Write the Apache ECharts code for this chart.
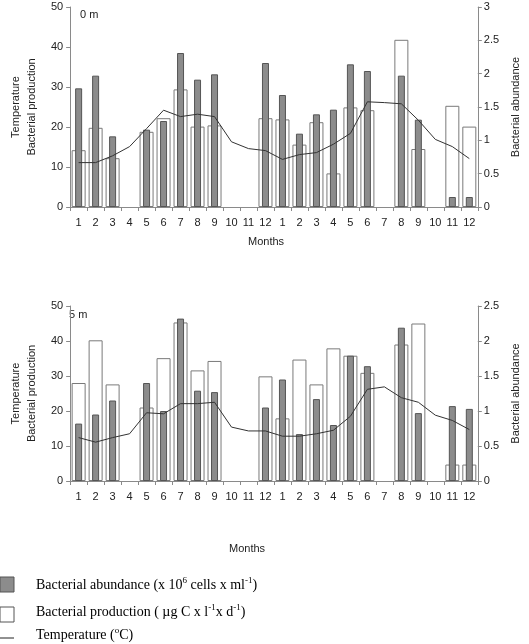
<!DOCTYPE html>
<html>
<head>
<meta charset="utf-8">
<script src="https://cdn.jsdelivr.net/npm/echarts@6/dist/echarts.min.js"></script>
<style>html,body{margin:0;padding:0;background:#fff;}#c{width:529px;height:644px;}</style>
</head>
<body>
<div id="c"></div>
<script>
const months = ['1','2','3','4','5','6','7','8','9','10','11','12','1','2','3','4','5','6','7','8','9','10','11','12'];
const prod0m = [14.2,19.8,12.2,null,18.8,22.2,29.4,20.1,20.4,null,null,22.2, 21.9,15.6,21.2,8.4,24.9,24.2,null,41.8,14.5,null,25.3,20.1];
const abund0m = [1.78,1.97,1.06,null,1.16,1.29,2.31,1.91,1.99,null,null,2.16, 1.68,1.10,1.39,1.46,2.14,2.04,null,1.97,1.31,null,0.15,0.15];
const temp0m = [11.1,11.1,12.8,15.1,19.6,24.2,22.6,23.2,22.6,16.3,14.6,14.1, 11.9,13.1,13.6,15.7,18.4,26.3,26.1,25.8,21.7,16.9,15.1,12.1];
const prod5m = [28.0,40.2,27.6,null,21.0,35.1,45.3,31.6,34.3,null,null,29.9, 17.9,34.7,27.6,37.9,35.8,30.9,null,39.0,45.0,null,4.7,4.7];
const abund5m = [0.82,0.95,1.15,null,1.40,1.00,2.32,1.29,1.27,null,null,1.05, 1.45,0.67,1.17,0.80,1.79,1.64,null,2.19,0.97,null,1.07,1.03];
const temp5m = [12.4,11.1,12.4,13.5,19.5,19.2,22.1,22.1,22.5,15.4,14.3,14.3, 12.8,12.8,13.5,14.5,18.5,26.2,26.9,23.8,22.5,18.8,17.3,14.7];

const axisColor = '#8a8a8a';
const lblStyle = {color:'#222', fontFamily:'Liberation Sans, Arial, sans-serif', fontSize:11};
function xAx(grid, show){
  return {type:'category', gridIndex:grid, data:months, show:show, boundaryGap:true,
    axisLine:{lineStyle:{color:axisColor}}, axisTick:{show:true, length:4, interval:0, lineStyle:{color:axisColor}},
    axisLabel:Object.assign({interval:0, margin:10}, lblStyle)};
}
function yLeft(grid, gap){
  return {type:'value', gridIndex:grid, position:'left', min:0, max:50, interval:10,
    name:'Temperature\nBacterial production', nameLocation:'middle', nameRotate:90, nameGap:gap,
    nameTextStyle:{color:'#222', fontFamily:'Liberation Sans, Arial, sans-serif', fontSize:11, lineHeight:16},
    axisLine:{show:true, lineStyle:{color:axisColor}}, axisTick:{show:true, length:4, lineStyle:{color:axisColor}},
    splitLine:{show:false}, axisLabel:Object.assign({margin:7}, lblStyle)};
}
function yRight(grid, max){
  return {type:'value', gridIndex:grid, position:'right', min:0, max:max, interval:0.5,
    name:'Bacterial abundance', nameLocation:'middle', nameRotate:90, nameGap:26,
    nameTextStyle:{color:'#222', fontFamily:'Liberation Sans, Arial, sans-serif', fontSize:11},
    axisLine:{show:true, lineStyle:{color:axisColor}}, axisTick:{show:true, length:4, lineStyle:{color:axisColor}},
    splitLine:{show:false}, axisLabel:Object.assign({margin:6}, lblStyle)};
}
const prodStyle = {color:'#ffffff', borderColor:'#7a7a7a', borderWidth:1};
const abundStyle = {color:'#8c8c8c', borderColor:'#555555', borderWidth:1};
const lineStyle = {color:'#333333', width:1};
const serif = 'Liberation Serif, Times New Roman, serif';
const rich = {sup:{fontSize:9, fontFamily:serif, color:'#000', verticalAlign:'top', lineHeight:18}, n:{fontSize:14, fontFamily:serif, color:'#000', lineHeight:18}};

const option = {
  animation:false,
  backgroundColor:'#fff',
  grid:[
    {left:57, right:36, top:7, height:200},
    {left:53, right:36, top:306, height:175}
  ],
  xAxis:[xAx(0,true), xAx(0,false), xAx(1,true), xAx(1,false)],
  yAxis:[yLeft(0,30), yRight(0,3), yLeft(1,27), yRight(1,2.5)],
  series:[
    {name:'Bacterial production', type:'bar', xAxisIndex:0, yAxisIndex:0, data:prod0m, barWidth:14, itemStyle:prodStyle},
    {name:'Bacterial abundance', type:'bar', xAxisIndex:1, yAxisIndex:1, data:abund0m, barWidth:7, itemStyle:abundStyle},
    {name:'Temperature', type:'line', xAxisIndex:0, yAxisIndex:0, data:temp0m, symbol:'none', lineStyle:lineStyle, itemStyle:{color:'#333'}},
    {name:'Bacterial production', type:'bar', xAxisIndex:2, yAxisIndex:2, data:prod5m, barWidth:14, itemStyle:prodStyle},
    {name:'Bacterial abundance', type:'bar', xAxisIndex:3, yAxisIndex:3, data:abund5m, barWidth:7, itemStyle:abundStyle},
    {name:'Temperature', type:'line', xAxisIndex:2, yAxisIndex:2, data:temp5m, symbol:'none', lineStyle:lineStyle, itemStyle:{color:'#333'}}
  ],
  graphic:[
    {type:'text', left:80, top:9, style:{text:'0 m', fill:'#222', font:'11px Liberation Sans, Arial, sans-serif'}},
    {type:'text', left:69, top:309, style:{text:'5 m', fill:'#222', font:'11px Liberation Sans, Arial, sans-serif'}},
    {type:'text', left:248, top:236, style:{text:'Months', fill:'#222', font:'11px Liberation Sans, Arial, sans-serif'}},
    {type:'text', left:229, top:543, style:{text:'Months', fill:'#222', font:'11px Liberation Sans, Arial, sans-serif'}},
    {type:'rect', shape:{x:0, y:577, width:14, height:15}, style:{fill:'#8c8c8c', stroke:'#555', lineWidth:1}},
    {type:'rect', shape:{x:0, y:607, width:14, height:15}, style:{fill:'#fff', stroke:'#555', lineWidth:1}},
    {type:'line', shape:{x1:0, y1:638, x2:14, y2:638}, style:{stroke:'#222', lineWidth:1}},
    {type:'text', x:36, y:585, style:{text:'{n|Bacterial abundance (x 10}{sup|6}{n| cells x ml}{sup|-1}{n|)}', rich:rich, verticalAlign:'middle'}},
    {type:'text', x:36, y:612, style:{text:'{n|Bacterial production ( \u00b5g C x l}{sup|-1}{n|x d}{sup|-1}{n|)}', rich:rich, verticalAlign:'middle'}},
    {type:'text', x:36, y:635, style:{text:'{n|Temperature (}{sup|o}{n|C)}', rich:rich, verticalAlign:'middle'}}
  ]
};
const chart = echarts.init(document.getElementById('c'), null, {renderer:'canvas'});
chart.setOption(option);
</script>
</body>
</html>
